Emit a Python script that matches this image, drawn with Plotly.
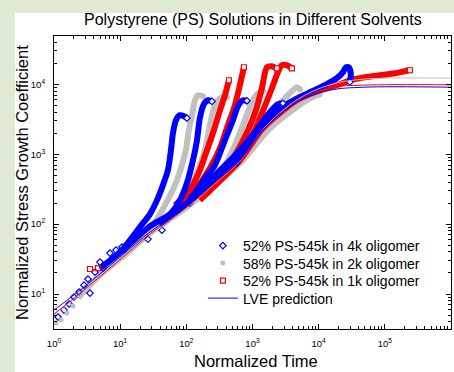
import plotly.graph_objects as go

TITLE = "Polystyrene (PS) Solutions in Different Solvents"
X_TITLE = "Normalized Time"
Y_TITLE = "Normalized Stress Growth Coefficient"
NAME_4K = "52% PS-545k in 4k oligomer"
NAME_2K = "58% PS-545k in 2k oligomer"
NAME_1K = "52% PS-545k in 1k oligomer"
NAME_LVE = "LVE prediction"

X_TICKVALS = [1, 10, 100, 1000, 10000, 100000, 1000000]
X_TICKTEXT = ["10<sup>0</sup>", "10<sup>1</sup>", "10<sup>2</sup>", "10<sup>3</sup>",
              "10<sup>4</sup>", "10<sup>5</sup>", "10<sup>6</sup>"]
Y_TICKVALS = [10, 100, 1000, 10000]
Y_TICKTEXT = ["10<sup>1</sup>", "10<sup>2</sup>", "10<sup>3</sup>", "10<sup>4</sup>"]

# ---- 52% PS-545k in 4k oligomer (blue): one curve per rate ----
blue_t1 = [4.95, 10.3, 22.1, 28.2, 37.2, 44.3, 52.7, 58.5, 62.8, 69.7, 80, 92, 102]
blue_s1 = [23.5, 41.1, 103, 139, 235, 361, 591, 1140, 1995, 3060, 3610, 3490, 3270]
blue_t2 = [10.3, 28.2, 56.5, 80, 102, 126, 145, 160, 184, 212, 244]
blue_s2 = [39.8, 93.6, 139, 220, 385, 820, 1585, 3270, 5180, 5900, 5700]
blue_t3 = [39.9, 113, 191, 270, 383, 506, 602, 716, 823]
blue_s3 = [96.8, 220, 454, 697, 1585, 3060, 4850, 5900, 5800]
blue_t4 = [113, 270, 645, 1207, 1832, 2420, 2880]
blue_s4 = [235, 501, 1140, 2350, 3980, 5180, 5350]
blue_t5 = [106, 270, 645, 1436, 3670, 7360, 12400, 18800, 23200, 25800, 28600, 30600, 29600]
blue_s5 = [200, 454, 968, 2600, 5530, 7690, 9680, 12190, 14800, 17500, 17500, 13900, 10700]
blue_pts_t = [1.15, 1.42, 1.69, 2.0, 2.39, 2.84, 3.26, 3.50, 4.16, 4.95, 5.50, 7.01, 8.64,
              10.6, 15.6, 26.3, 42.8, 113, 270, 581]
blue_pts_s = [4.69, 5.9, 7.2, 9.06, 10.7, 13.4, 16.4, 10.3, 20.6, 28.6, 23.5, 38.5, 42.5,
              46.9, 59.1, 61.1, 82.0, 200, 454, 743]

# ---- 58% PS-545k in 2k oligomer (gray) ----
gray_t1 = [28.2, 47.5, 67.3, 85.9, 98.6, 109, 122, 135, 150, 178]
gray_s1 = [80, 187, 361, 697, 1140, 2200, 3610, 5900, 6960, 6740]
gray_t2 = [28.2, 80, 145, 191, 227, 261, 300, 345, 410]
gray_s2 = [78, 187, 553, 1140, 2600, 4540, 5900, 6520, 6520]
gray_t3 = [80, 191, 345, 542, 768, 979, 1207, 1436]
gray_s3 = [187, 361, 591, 1345, 3060, 5530, 7430, 7940]
gray_t4 = [160, 456, 1087, 1832, 3090, 4080, 4690, 5200]
gray_s4 = [220, 591, 1870, 3610, 6310, 8200, 9060, 8490]
gray_t5 = [2.31, 4.95, 10.3, 28.2, 106, 645, 1832, 4370, 7360, 10400]
gray_s5 = [8.77, 18.7, 32.7, 74.4, 181, 743, 2350, 4540, 6310, 7200]
gray_pts_t = [1.07, 1.28, 1.57, 1.94]
gray_pts_s = [3.85, 4.25, 5.35, 6.74]

# ---- 52% PS-545k in 1k oligomer (red) ----
red_t1 = [67.3, 113, 160, 205, 261, 322, 383, 440]
red_s1 = [187, 306, 591, 1140, 2200, 4250, 6960, 11400]
red_t2 = [67.3, 135, 227, 322, 425, 542, 645, 741]
red_s2 = [158, 306, 631, 1218, 2600, 5010, 9680, 17500]
red_t3 = [113, 270, 542, 853, 1125, 1387, 1650, 1963, 2337]
red_s3 = [220, 425, 968, 2200, 4250, 8770, 17500, 18100, 16900]
red_t4 = [160, 383, 914, 1387, 1963, 2420, 2770, 3310, 3940]
red_s4 = [260, 553, 1585, 3850, 8770, 14800, 18700, 18700, 16900]
red_t5 = [160, 645, 1436, 4690, 10400, 20900, 29600, 49900, 84000, 142000, 200000, 239000]
red_s5 = [220, 820, 2350, 5900, 8200, 10000, 11400, 12600, 13450, 14350, 15350, 15850]
red_pts_t = [3.50, 4.62]
red_pts_s = [22.8, 23.5]

# ---- LVE predictions ----
lve_t = [1, 1.74, 3.50, 10.3, 28.2, 106, 270, 645, 1436, 4690, 14800, 46500, 1000000]
lve_blue = [5.9, 8.77, 14.8, 34.9, 76.9, 187, 398, 820, 2200, 5530, 8200, 9060, 9060]
lve_red = [5.2, 7.8, 13.5, 32, 72, 180, 390, 810, 2200, 5700, 8900, 9700, 9800]
lve_gray = [5.0, 7.5, 13, 30, 68, 175, 380, 800, 2250, 6000, 9800, 11800, 12200]

BLUE = "#0000ff"
RED = "#ff0000"
GRAY = "#c0c0c0"
BG = "#dfead4"
FONT = "Liberation Sans, Arial"
MS = 5

fig = go.Figure()

series = [
    (GRAY, "circle", GRAY, [(gray_t1, gray_s1), (gray_t2, gray_s2), (gray_t3, gray_s3),
                            (gray_t4, gray_s4), (gray_t5, gray_s5)]),
    (RED, "square", "white", [(red_t1, red_s1), (red_t2, red_s2), (red_t3, red_s3),
                             (red_t4, red_s4), (red_t5, red_s5)]),
    (BLUE, "diamond", "white", [(blue_t1, blue_s1), (blue_t2, blue_s2), (blue_t3, blue_s3),
                               (blue_t4, blue_s4), (blue_t5, blue_s5)]),
]

for color, sym, fill, curves in series:
    for t, s in curves:
        fig.add_trace(go.Scatter(x=t, y=s, mode="lines", showlegend=False,
                                 line=dict(color=color, width=6, shape="spline", smoothing=0.7),
                                 hoverinfo="skip"))
    fig.add_trace(go.Scatter(x=[c[0][-1] for c in curves], y=[c[1][-1] for c in curves],
                             mode="markers", showlegend=False, hoverinfo="skip",
                             marker=dict(symbol=sym, size=MS, color=fill,
                                         line=dict(color=color, width=1.2))))

# sparse early data (legend entries), each in its own legend box
fig.add_trace(go.Scatter(x=blue_pts_t, y=blue_pts_s, mode="markers", name=NAME_4K, legend="legend",
                         marker=dict(symbol="diamond", size=MS, color="rgba(255,255,255,0)",
                                     line=dict(color=BLUE, width=1.2))))
fig.add_trace(go.Scatter(x=gray_pts_t, y=gray_pts_s, mode="markers", name=NAME_2K, legend="legend2",
                         marker=dict(symbol="circle", size=MS, color=GRAY)))
fig.add_trace(go.Scatter(x=red_pts_t, y=red_pts_s, mode="markers", name=NAME_1K, legend="legend3",
                         marker=dict(symbol="square", size=MS, color="rgba(255,255,255,0)",
                                     line=dict(color=RED, width=1.2))))

fig.add_trace(go.Scatter(x=lve_t, y=lve_gray, mode="lines", showlegend=False,
                         line=dict(color=GRAY, width=1, shape="spline")))
fig.add_trace(go.Scatter(x=lve_t, y=lve_red, mode="lines", showlegend=False,
                         line=dict(color=RED, width=1, shape="spline")))
fig.add_trace(go.Scatter(x=lve_t, y=lve_blue, mode="lines", name=NAME_LVE, legend="legend4",
                         line=dict(color=BLUE, width=1, shape="spline")))

axis_common = dict(
    type="log", showgrid=False, zeroline=False,
    showline=True, linecolor="black", linewidth=1, mirror="ticks",
    ticks="inside", ticklen=5, tickwidth=1, tickcolor="black",
    tickfont=dict(family=FONT, size=9.5, color="black"),
    minor=dict(ticks="inside", ticklen=3, tickwidth=1, tickcolor="black", dtick="D1", showgrid=False),
)


def leg(ypix):
    return dict(x=0.375, y=(329 - ypix) / 293, xanchor="left", yanchor="middle",
                bgcolor="rgba(0,0,0,0)", font=dict(size=14, family=FONT, color="black"))


fig.update_layout(
    width=454, height=372,
    margin=dict(l=54, r=3, t=36, b=43),
    paper_bgcolor=BG, plot_bgcolor="white",
    font=dict(family=FONT, color="black"),
    showlegend=True,
    legend=leg(246), legend2=leg(263.5), legend3=leg(281), legend4=leg(298.5),
    xaxis=dict(range=[0, 6], tickmode="array", tickvals=X_TICKVALS, ticktext=X_TICKTEXT,
               ticklabelstandoff=6, **axis_common),
    yaxis=dict(range=[0.5, 4.69], tickmode="array", tickvals=Y_TICKVALS, ticktext=Y_TICKTEXT,
               ticklabelstandoff=6, **axis_common),
    shapes=[dict(type="rect", xref="paper", yref="paper", x0=-0.0983, x1=1.01, y0=-0.15, y1=1.0785,
                 fillcolor="white", line=dict(width=0), layer="below")],
    annotations=[
        dict(text=TITLE, xref="paper", yref="paper", x=0.5, y=1.0 + (36 - 19.5) / 293,
             xanchor="center", yanchor="middle", showarrow=False,
             font=dict(size=16, family=FONT)),
        dict(text=X_TITLE, xref="paper", yref="paper", x=(256 - 54) / 397, y=-(361 - 329) / 293,
             xanchor="center", yanchor="middle", showarrow=False,
             font=dict(size=16.5, family=FONT)),
        dict(text=Y_TITLE, xref="paper", yref="paper", x=-(54 - 21.5) / 397, y=0.5,
             xanchor="center", yanchor="middle", showarrow=False, textangle=-90,
             font=dict(size=16.5, family=FONT)),
    ],
)

fig.write_html("out.html")
